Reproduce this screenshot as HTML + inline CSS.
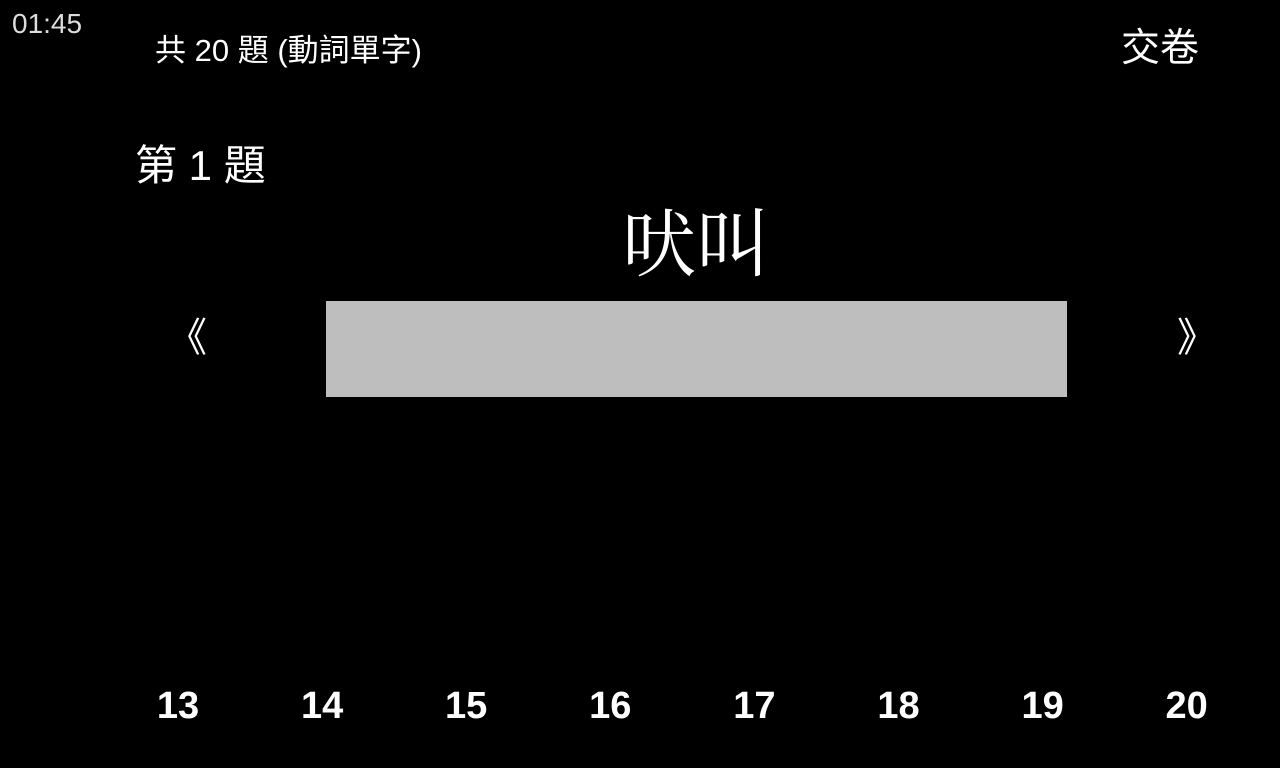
<!DOCTYPE html>
<html><head><meta charset="utf-8"><style>
body{margin:0;width:1280px;height:768px;background:#000;color:#fff;position:relative;overflow:hidden;font-family:"Liberation Sans","Noto Sans CJK TC",sans-serif}
.a{position:absolute;white-space:nowrap;line-height:1}
.n{position:absolute;top:687px;width:80px;margin-left:-40px;text-align:center;font-weight:bold;font-size:38px;line-height:1}
</style></head><body>
<div class="a" style="left:12px;top:10px;font-size:28px;color:#ddd">01:45</div>
<div class="a" style="left:155px;top:35px;font-size:31px">共 20 題 (動詞單字)</div>
<div class="a" style="left:1121px;top:29px;font-size:39px">交卷</div>
<div class="a" style="left:135px;top:145px;font-size:42px">第 1 題</div>
<div class="a" style="left:622px;top:209px;font-size:74px;font-family:'Liberation Serif','Noto Serif CJK SC',serif">吠叫</div>
<div class="a" style="left:167px;top:318px;font-size:40px">《</div>
<div class="a" style="left:1177px;top:318px;font-size:40px">》</div>
<div style="position:absolute;left:326px;top:301px;width:741px;height:96px;background:#bebebe"></div>
<div id="nums"></div>
<script>
const pages=[13,14,15,16,17,18,19,20];
const c=document.getElementById('nums');
pages.forEach((p,i)=>{const d=document.createElement('div');d.className='n';d.style.left=(178+i*144.1)+'px';d.textContent=p;


c.appendChild(d);});
</script>
</body></html>
